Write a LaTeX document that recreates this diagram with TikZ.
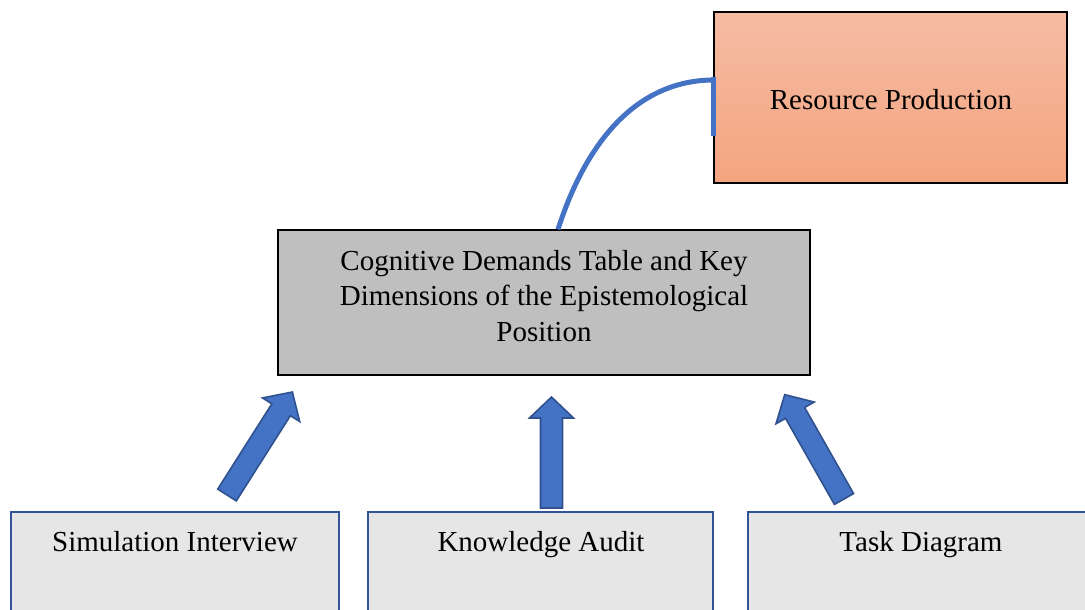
\documentclass[tikz,border=0pt]{standalone}
\usepackage{fontspec}
\setmainfont{Liberation Serif}
\usetikzlibrary{calc}
\definecolor{arrowblue}{HTML}{4472C4}
\definecolor{arrowedge}{HTML}{2F528F}
\definecolor{boxedge}{HTML}{2F5597}
\definecolor{midgray}{HTML}{BFBFBF}
\definecolor{lightgray}{HTML}{E7E6E6}
\definecolor{rptop}{HTML}{F5BCA4}
\definecolor{rpbot}{HTML}{F4A47F}
\tikzset{
  txt/.style={font=\fontsize{29}{35.5}\selectfont, align=center, inner sep=0pt},
  blockarrow/.style={fill=arrowblue, draw=arrowedge, line width=1.6pt, line join=miter},
  srcbox/.style={fill=lightgray, draw=boxedge, line width=2pt},
  link/.style={draw=arrowblue, line width=5pt},
}
\begin{document}
\begin{tikzpicture}[x=1pt,y=-1pt]
\useasboundingbox (0,0) rectangle (1085,610);
\begin{scope}
\clip (0,0) rectangle (1085,610);
% bottom source boxes
\draw[srcbox] (11,512) rectangle (339,640);
\draw[srcbox] (368,512) rectangle (713,640);
\draw[srcbox] (748,512) rectangle (1094,640);
\end{scope}
\node[txt, anchor=base] (sim) at (175,551) {Simulation Interview};
\node[txt, anchor=base] (ka) at (541,551) {Knowledge Audit};
\node[txt, anchor=base] (td) at (921,551) {Task Diagram};

% middle box
\node[draw=black, line width=1.3pt, fill=midgray, minimum width=532pt, minimum height=145pt, inner sep=0pt] (mid) at (544,302.5) {};
\node[txt] (midtxt) at (544,296) {Cognitive Demands Table and Key\\Dimensions of the Epistemological\\Position};

% resource production box
\node[draw=black, line width=1.3pt, top color=rptop, bottom color=rpbot, minimum width=353pt, minimum height=171pt, inner sep=0pt] (rp) at (890.5,97.5) {};
\node[txt, anchor=base] (rptxt) at (891,110) {Resource Production};

% connector
\coordinate (cstart) at ($(mid.north)+(14,0)$);
\coordinate (cturn) at ($(rp.west)+(0.5,-17.5)$);
\coordinate (cend) at ($(rp.west)+(0.5,38)$);
\draw[link] (cstart) .. controls (590,130) and (645,80) .. (cturn);
\draw[link, line cap=butt] ($(cturn)+(0,-2.5)$) -- (cend);

% block arrows
\coordinate (a1) at (227,495);
\coordinate (a2) at (551.5,508);
\coordinate (a3) at (844,499);
\foreach \c/\ang/\L in {a1/57.6/122, a2/90/111, a3/119.6/120}{
  \draw[blockarrow, shift={(\c)}, rotate=\ang, x=1pt, y=1pt]
    (0,-11) -- (\L-21,-11) -- (\L-21,-22) -- (\L,0) -- (\L-21,22) -- (\L-21,11) -- (0,11) -- cycle;
}
\end{tikzpicture}
\end{document}
